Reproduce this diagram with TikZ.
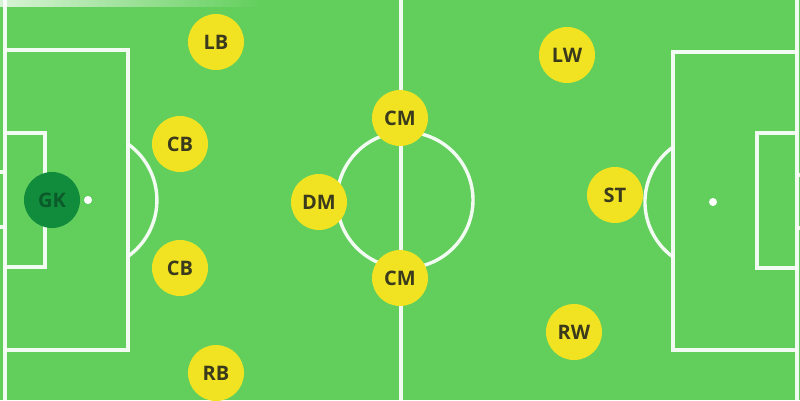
\documentclass[tikz,border=0pt]{standalone}
\usepackage{fontspec}
\setmainfont{Open Sans}
\usetikzlibrary{positioning}
\definecolor{pitch}{HTML}{62CF5C}
\definecolor{shirt}{HTML}{F2E322}
\definecolor{shirttext}{HTML}{3A3A1C}
\definecolor{keeper}{HTML}{118B3C}
\definecolor{keepertext}{HTML}{0B5A29}
\begin{document}
\begin{tikzpicture}[x=1pt, y=-1pt,
        mark line/.style = {draw=white, opacity=0.92, line width=3.4pt},
        player/.style = {circle, fill=shirt, minimum size=56pt, inner sep=0pt, text=shirttext, font=\fontsize{20}{20}\selectfont\bfseries},
        goalie/.style = {player, fill=keeper, text=keepertext}]
        \fill[pitch] (0,0) rectangle (800,400);
        \useasboundingbox (0,0) rectangle (800,400);
        % faded touch line at the top
        \shade[left color=white!75!pitch, right color=pitch] (0,0) rectangle (260,6);
        % halfway line and centre circle
        \draw[mark line] (401,0) -- (401,400);
        \draw[mark line] (405,200) circle[radius=68];
        % left half
        \draw[mark line] (5,0) -- (5,400);
        \draw[mark line] (5,50) -- (128,50) -- (128,350) -- (5,350);
        \draw[mark line] (5,133) -- (45,133) -- (45,267) -- (5,267);
        \draw[mark line] (128,144) arc[start angle=-54.5, end angle=54.5, radius=69];
        \draw[mark line] (0,172) -- (5,172) (0,227) -- (5,227);
        \fill[white] (88,200) circle[radius=4];
        % right half
        \draw[mark line] (797,0) -- (797,400);
        \draw[mark line] (797,52) -- (673,52) -- (673,350) -- (797,350);
        \draw[mark line] (797,133) -- (757,133) -- (757,268) -- (797,268);
        \draw[mark line] (673,257) arc[start angle=126, end angle=234, radius=68];
        \draw[mark line] (797,175) -- (800,175) (797,228) -- (800,228);
        \fill[white] (713,202) circle[radius=4];
        % players
        \node[goalie] (gk) at (52,200) {GK};
        \node[player] (lb) at (216,42) {LB};
        \node[player] (cbl) at (180,144) {CB};
        \node[player] (cbr) at (180,268) {CB};
        \node[player] (rb) at (216,373) {RB};
        \node[player] (dm) at (319,202) {DM};
        \node[player] (cml) at (400,118) {CM};
        \node[player] (cmr) at (400,278) {CM};
        \node[player] (lw) at (567,55) {LW};
        \node[player] (st) at (615,195) {ST};
        \node[player] (rw) at (574,332) {RW};
    \end{tikzpicture}
\end{document}
